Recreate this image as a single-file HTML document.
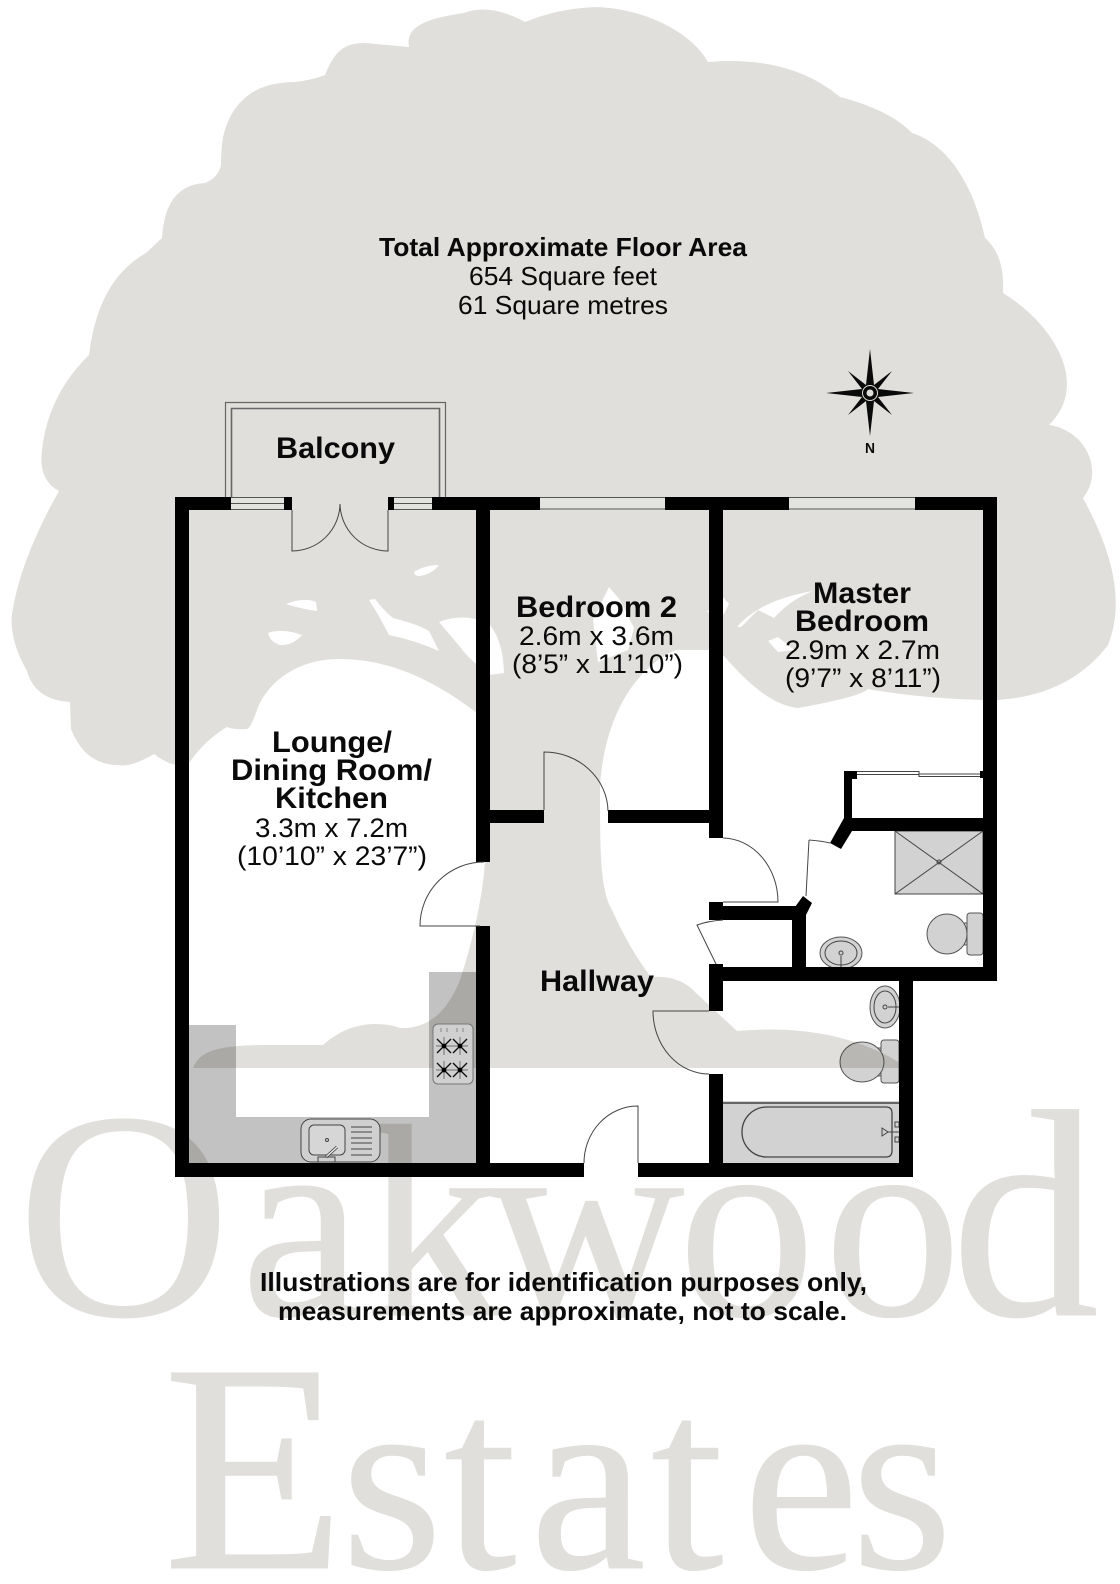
<!DOCTYPE html>
<html><head><meta charset="utf-8"><title>Floor plan</title>
<style>
html,body{margin:0;padding:0;background:#fff}
svg{display:block}
text{font-family:"Liberation Sans",Arial,sans-serif;fill:#0a0a0a}
.b{font-weight:bold}
.s{font-family:"Liberation Serif",serif;fill:#e0dfdb;stroke:#e0dfdb;stroke-width:1}
.m{mix-blend-mode:multiply}
.f{fill:#d2d2d2;stroke:#555;stroke-width:1}
.l{fill:none;stroke:#444;stroke-width:1}
</style></head><body>
<svg width="1120" height="1584" viewBox="0 0 1120 1584" xmlns="http://www.w3.org/2000/svg">
<rect width="1120" height="1584" fill="#fff"/>
<path fill="#e0dfdb" d="M59 491 Q38 480 42 450 Q48 395 89 355 Q98 280 146 253 L162 238 Q165 185 205 183 Q218 178 221 165 Q221 150 223 137 Q236 82 295 82 Q312 80 325 75 C335 50 345 43 365 43 L409 47 C405 25 430 18 464 13 Q490 3 525 22 Q560 8 596 7 C640 8 690 30 708 62 Q790 55 840 97 Q890 110 912 133 C950 145 975 190 985 238 Q1005 255 1003 293 C1055 325 1090 385 1049 425 C1085 430 1105 470 1083 498 C1100 530 1130 590 1108 645 Q1070 695 998 700 Q930 700 868 689 Q860 697 798 708 C770 705 745 680 724 656 L709 650 L676 650 C640 665 605 710 600 786 C600 850 600 890 612 910 Q630 950 651 977 Q680 975 696 993 L737 1031 Q840 1022 908 1068 L193 1068 C200 1050 220 1046 260 1045 L323 1045 Q345 1025 373 1024 Q390 1024 400 1028 Q440 1030 460 980 C470 950 483 900 485 860 L487 780 L477 713 C440 685 395 659 339 659 C300 659 268 680 257 710 Q250 730 246 729 Q235 730 227 727 Q205 740 189 763 Q175 770 154 754 Q130 768 118 765 Q85 765 71 729 L70 702 Q35 700 27 671 C15 650 10 630 12 614 Q20 560 59 491 Z"/>
<g fill="#fff">
<path d="M414 572 Q425 565 439 565 Q432 574 420 576 Q414 576 414 572Z"/>
<path d="M286 604 Q304 597 316 602 L317 611 Q302 609 286 604Z"/>
<path d="M268 633 Q282 628 302 635 Q292 646 280 645 Q270 642 268 633Z"/>
<path d="M369 600 L375 599 Q385 612 393 618 Q420 625 429 631 L439 651 Q414 640 389 635 Q382 622 379 616Z"/>
<path d="M439 622 Q465 612 489 624 Q503 640 504 673 L489 675 Q465 655 461 648Z"/>
<path d="M609 587 L620 600 L634 628 L628 650 L598 662 L593 620Z"/>
<path d="M707 612 L721 595 L729 604 L724 614Z"/>
<path d="M737 627 Q760 600 813 591 Q790 600 774 618 L758 610 L741 627Z"/>
<path d="M768 641 L778 637 L794 650 L778 652Z"/>
</g>
<text class="s" y="1315" font-size="296" x="17 241 365 486 678 824 951">O<tspan font-size="275">akwoo</tspan><tspan font-size="296">d</tspan></text>
<text class="s" y="1568" font-size="298" x="163 341 444 530 651 743 851">E<tspan font-size="261">states</tspan></text>

<!-- counters -->
<path class="m" fill="#c2c2c2" d="M189 1025H236V1117H429V972H476V1163H189Z"/>

<!-- hob and sink -->
<rect x="433" y="1024" width="40" height="60" rx="5" fill="#d0d0d0" stroke="#777"/>
<rect x="301" y="1119" width="79" height="43" rx="10" fill="#d0d0d0" stroke="#444"/>
<rect x="309" y="1125" width="36" height="30" rx="5" fill="#d6d6d6" stroke="#444"/>

<!-- fixtures -->
<g class="m">
<rect x="723" y="1101" width="176" height="62" fill="#d2d2d2"/>
<rect x="895" y="831" width="88" height="63" fill="#d2d2d2"/>
<rect x="963" y="923" width="5" height="22" rx="2" class="f"/>
<rect x="967" y="913" width="16" height="42" rx="3" class="f"/>
<ellipse cx="947" cy="934" rx="20" ry="20" class="f"/>
<rect x="876" y="1048" width="6" height="28" rx="2" class="f"/>
<rect x="881" y="1040" width="18" height="43" rx="3" class="f"/>
<ellipse cx="862" cy="1062" rx="22" ry="20" class="f"/>
<ellipse cx="841" cy="953" rx="21" ry="16" class="f"/>
<ellipse cx="885" cy="1007" rx="15" ry="21" class="f"/>
</g>
<g class="l">
<path d="M351 1127H372M351 1132H372M351 1138H372M351 1143H372M351 1149H372M351 1155H372"/>
<circle cx="327" cy="1140" r="1.5"/>
<path d="M326 1157L337 1147" stroke-width="3"/>
<path d="M326 1157L337 1147" stroke="#e8e8e8" stroke-width="1.500"/>
<rect x="318" y="1157" width="17" height="5"/>
<path d="M899 1103H723" stroke="#666" stroke-width="2"/>
<path d="M767 1107H886Q892 1107 892 1113V1151Q892 1157 886 1157H767C752 1157 742 1145 742 1132C742 1119 752 1107 767 1107Z" stroke-width="1.3"/>
<path d="M882 1128L888 1132L882 1136ZM888 1132H899M895 1122H899V1127H895ZM895 1137H899V1142H895Z"/>
<path d="M895 831H983V894H895ZM895 831L983 894M983 831L895 894" />
<circle cx="939" cy="862" r="2"/>
<ellipse cx="841" cy="953" rx="16" ry="12"/>
<circle cx="841" cy="953" r="2"/>
<path d="M841 956V967"/>
<ellipse cx="885" cy="1007" rx="11" ry="16"/>
<circle cx="885" cy="1007" r="2"/>
<path d="M888 1007H899"/>
</g>
<g fill="none" stroke="#111" stroke-width="1.400">
<path d="M437 1039L451 1053M451 1039L437 1053M453 1039L467 1053M467 1039L453 1053M437 1063L451 1077M451 1063L437 1077M453 1063L467 1077M467 1063L453 1077"/>
<path stroke-width=".5" d="M444 1037V1055M436 1046H468M460 1037V1055M444 1061V1079M436 1070H468M460 1061V1079"/>
<path stroke="#777" stroke-width=".8" d="M441 1028V1032M447 1028V1032M457 1028V1032M463 1028V1032"/>
</g>
<circle cx="444" cy="1046" r="2.400"/><circle cx="460" cy="1046" r="2.400"/><circle cx="444" cy="1070" r="2.400"/><circle cx="460" cy="1070" r="2.400"/>

<!-- balcony -->
<g fill="none" stroke="#666">
<path d="M225.500 497V402.500H445.500V497" stroke-width="1.200"/>
<path d="M231.500 497V408.500H439.500V497" stroke-width="1.600"/>
</g>

<!-- windows -->
<g fill="#e3e3df">
<rect x="231" y="497" width="53" height="13"/><rect x="394" y="497" width="38" height="13"/>
<rect x="540" y="497" width="125" height="13"/><rect x="789" y="497" width="126" height="13"/>
</g>
<g stroke="#555" fill="none">
<path d="M231 497.500H284M231 503.500H284M231 509.500H284M394 497.500H432M394 503.500H432M394 509.500H432"/>
<path d="M540 497.500H665M540 509H665M789 497.500H915M789 509H915" />
</g>

<!-- walls -->
<g fill="#000">
<rect x="175" y="497" width="14" height="680"/>
<rect x="175" y="497" width="56" height="13"/>
<rect x="284" y="497" width="8" height="13"/>
<rect x="388" y="497" width="6" height="13"/>
<rect x="432" y="497" width="108" height="13"/>
<rect x="665" y="497" width="124" height="13"/>
<rect x="915" y="497" width="82" height="13"/>
<rect x="476" y="497" width="14" height="365"/>
<rect x="476" y="926" width="14" height="251"/>
<rect x="490" y="810" width="54" height="13"/>
<rect x="608" y="810" width="101" height="13"/>
<rect x="709" y="497" width="14" height="341"/>
<rect x="709" y="902" width="14" height="18"/>
<rect x="723" y="906" width="72" height="14"/>
<rect x="792" y="906" width="14" height="62"/>
<path d="M795 907L803 896L812 903L806 915L797 918Z"/>
<rect x="709" y="964" width="14" height="47"/>
<rect x="709" y="1074" width="14" height="103"/>
<rect x="709" y="967" width="288" height="14"/>
<rect x="983" y="497" width="14" height="484"/>
<rect x="899" y="981" width="14" height="196"/>
<rect x="175" y="1163" width="409" height="14"/>
<rect x="638" y="1163" width="275" height="14"/>
<rect x="844" y="771" width="8" height="47"/>
<rect x="844" y="771" width="13" height="8"/>
<rect x="980" y="771" width="3" height="7"/>
<rect x="852" y="818" width="131" height="13"/>
<path d="M844 818H852V831L841 849L830 843Z"/>
</g>

<!-- doors -->
<g fill="none" stroke="#444" stroke-width="1">
<path d="M292 510V551A48 48 0 0 0 340 504"/>
<path d="M388 510V551A48 48 0 0 1 340 504"/>
<path d="M544 810V752A64 60 0 0 1 608 811"/>
<path d="M480 926H420A64 64 0 0 1 484 862"/>
<path d="M723 838A56 64 0 0 1 778 902H723"/>
<path d="M723 920Q708 921 697 925L716 964"/>
<path d="M709 1011H653A56 63 0 0 0 709 1074"/>
<path d="M638 1163V1106A54 57 0 0 0 584 1163"/>
<path d="M809 840L806 896M809 840Q822 841 830 843"/>
<path d="M857 771.500H919V776.500H980M857 774.500H919M919 774H980"/>
</g>

<!-- compass -->
<path fill="#0a0a0a" d="M870 349L874 385L892 371L878 389L914 393L878 397L892 415L874 401L870 436L866 401L848 415L862 397L826 393L862 389L848 371L866 385Z"/>
<circle cx="870" cy="393" r="7.500" fill="#0a0a0a" stroke="#e0dfdb" stroke-width="1"/>
<circle cx="870" cy="393" r="3.500" fill="#e0dfdb"/>
<text class="b" x="865" y="453" font-size="15" textLength="10" lengthAdjust="spacingAndGlyphs">N</text>

<!-- labels -->
<g font-size="26">
<text class="b" x="379" y="256" textLength="368" lengthAdjust="spacingAndGlyphs">Total Approximate Floor Area</text>
<text x="469" y="285" textLength="188" lengthAdjust="spacingAndGlyphs">654 Square feet</text>
<text x="458" y="314" textLength="210" lengthAdjust="spacingAndGlyphs">61 Square metres</text>
</g>
<g font-size="30">
<text class="b" x="276" y="458" textLength="119" lengthAdjust="spacingAndGlyphs">Balcony</text>
<text class="b" x="540" y="991" textLength="114" lengthAdjust="spacingAndGlyphs">Hallway</text>
<text class="b" x="516" y="617" textLength="161" lengthAdjust="spacingAndGlyphs">Bedroom 2</text>
<text class="b" x="813" y="603" textLength="98" lengthAdjust="spacingAndGlyphs">Master</text>
<text class="b" x="795" y="631" textLength="134" lengthAdjust="spacingAndGlyphs">Bedroom</text>
<text class="b" x="272" y="752" textLength="120" lengthAdjust="spacingAndGlyphs">Lounge/</text>
<text class="b" x="231" y="780" textLength="201" lengthAdjust="spacingAndGlyphs">Dining Room/</text>
<text class="b" x="275" y="808" textLength="113" lengthAdjust="spacingAndGlyphs">Kitchen</text>
</g>
<g font-size="27">
<text x="519" y="645" textLength="155" lengthAdjust="spacingAndGlyphs">2.6m x 3.6m</text>
<text x="512" y="673" textLength="171" lengthAdjust="spacingAndGlyphs">(8’5” x 11’10”)</text>
<text x="785" y="659" textLength="155" lengthAdjust="spacingAndGlyphs">2.9m x 2.7m</text>
<text x="785" y="687" textLength="156" lengthAdjust="spacingAndGlyphs">(9’7” x 8’11”)</text>
<text x="255" y="837" textLength="153" lengthAdjust="spacingAndGlyphs">3.3m x 7.2m</text>
<text x="237" y="865" textLength="190" lengthAdjust="spacingAndGlyphs">(10’10” x 23’7”)</text>
</g>
<g font-size="26">
<text class="b" x="260" y="1291" textLength="607" lengthAdjust="spacingAndGlyphs">Illustrations are for identification purposes only,</text>
<text class="b" x="278" y="1320" textLength="569" lengthAdjust="spacingAndGlyphs">measurements are approximate, not to scale.</text>
</g>
</svg>
</body></html>
